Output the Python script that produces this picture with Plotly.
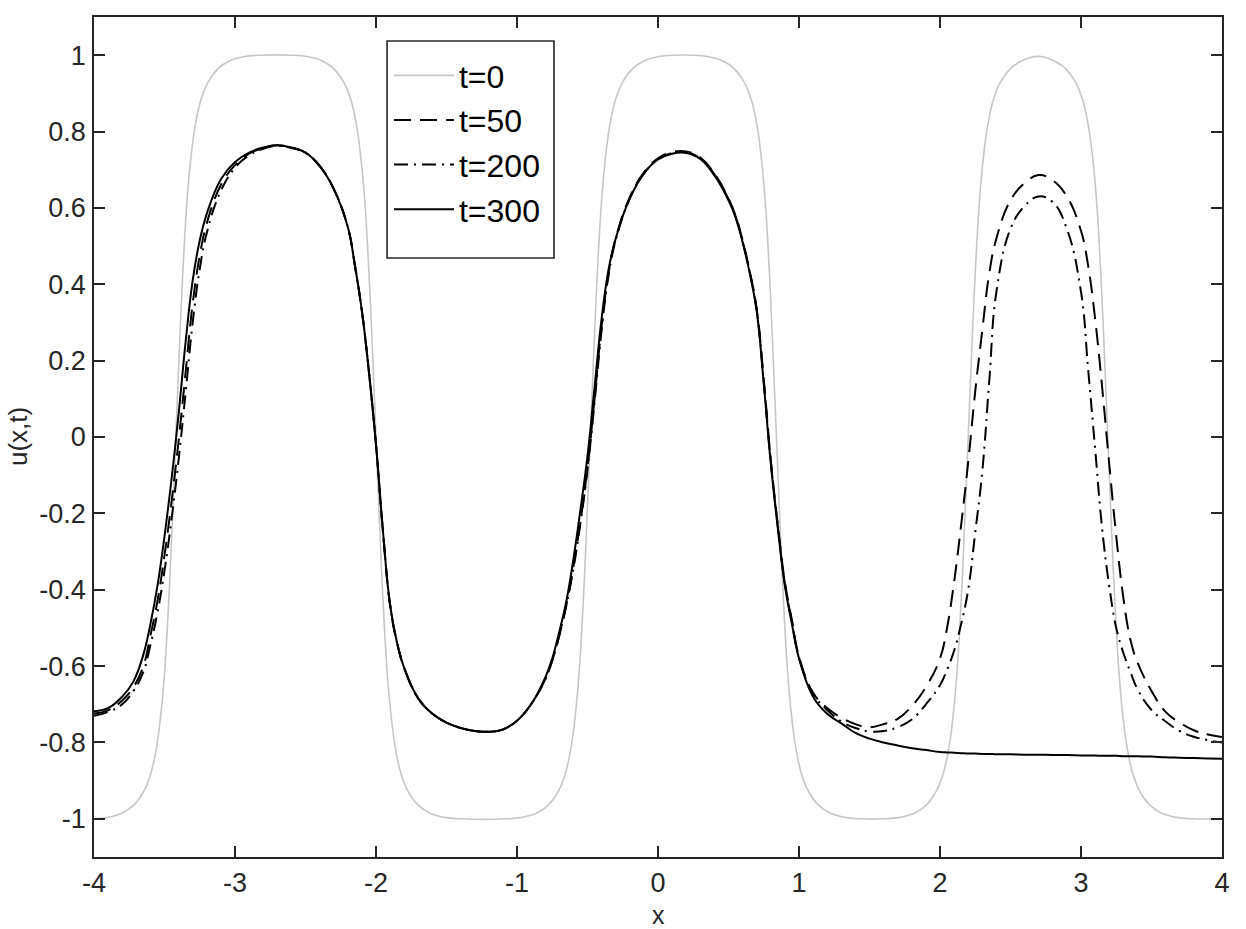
import plotly.graph_objects as go

# ---------------- data ----------------
# initial condition t=0 (grey)
X_T0 = [-4.0, -3.9, -3.8, -3.72, -3.65, -3.6, -3.56, -3.53, -3.5, -3.47, -3.45, -3.42,
        -3.39, -3.37, -3.34, -3.31, -3.28, -3.24, -3.19, -3.12, -3.04, -2.94, -2.82,
        -2.6, -2.48, -2.38, -2.3, -2.23, -2.18, -2.14, -2.11, -2.08, -2.05, -2.03, -2.0,
        -1.97, -1.95, -1.92, -1.89, -1.86, -1.82, -1.77, -1.7, -1.62, -1.52, -1.4,
        -1.08, -0.96, -0.86, -0.78, -0.71, -0.66, -0.62, -0.59, -0.56, -0.53, -0.51, -0.48,
        -0.45, -0.43, -0.4, -0.37, -0.34, -0.3, -0.25, -0.18, -0.1, 0.0, 0.12,
        0.24, 0.36, 0.46, 0.54, 0.61, 0.66, 0.7, 0.73, 0.76, 0.79, 0.81, 0.84,
        0.87, 0.89, 0.92, 0.95, 0.98, 1.02, 1.07, 1.14, 1.22, 1.32, 1.44,
        1.6, 1.72, 1.82, 1.9, 1.97, 2.02, 2.06, 2.09, 2.12, 2.15, 2.17, 2.2,
        2.23, 2.25, 2.28, 2.31, 2.34, 2.38, 2.43, 2.5, 2.58, 2.64, 2.695, 2.75,
        2.81, 2.89, 2.96, 3.01, 3.05, 3.08, 3.11, 3.14, 3.16, 3.19,
        3.22, 3.24, 3.27, 3.3, 3.33, 3.37, 3.42, 3.49, 3.57, 3.67, 3.79, 4.0]
U_T0 = [-1.0, -0.996, -0.985, -0.965, -0.93, -0.885, -0.82, -0.74, -0.62, -0.43, -0.27, 0.0,
        0.27, 0.43, 0.62, 0.74, 0.82, 0.885, 0.93, 0.965, 0.985, 0.996, 1.0,
        1.0, 0.996, 0.985, 0.965, 0.93, 0.885, 0.82, 0.74, 0.62, 0.43, 0.27, 0.0,
        -0.27, -0.43, -0.62, -0.74, -0.82, -0.885, -0.93, -0.965, -0.985, -0.996, -1.0,
        -1.0, -0.996, -0.985, -0.965, -0.93, -0.885, -0.82, -0.74, -0.62, -0.43, -0.27, 0.0,
        0.27, 0.43, 0.62, 0.74, 0.82, 0.885, 0.93, 0.965, 0.985, 0.996, 1.0,
        1.0, 0.996, 0.985, 0.965, 0.93, 0.885, 0.82, 0.74, 0.62, 0.43, 0.27, 0.0,
        -0.27, -0.43, -0.62, -0.74, -0.82, -0.885, -0.93, -0.965, -0.985, -0.996, -1.0,
        -1.0, -0.996, -0.985, -0.965, -0.93, -0.885, -0.82, -0.74, -0.62, -0.43, -0.27, 0.0,
        0.27, 0.43, 0.62, 0.74, 0.82, 0.885, 0.93, 0.965, 0.985, 0.994, 0.997, 0.994,
        0.985, 0.965, 0.93, 0.885, 0.82, 0.74, 0.62, 0.43, 0.27, 0.0,
        -0.27, -0.43, -0.62, -0.74, -0.82, -0.885, -0.93, -0.965, -0.985, -0.996, -1.0, -1.0]

# sample positions for the evolved solutions
X_EVOL = [-4.0, -3.9, -3.8, -3.72, -3.65, -3.6, -3.55, -3.5, -3.45, -3.4, -3.35, -3.3, -3.25, -3.2,
          -3.1, -3.0, -2.9, -2.8, -2.7, -2.6, -2.5, -2.4, -2.3, -2.2, -2.15, -2.1, -2.05,
          -2.0, -1.95, -1.9, -1.85, -1.8, -1.7, -1.6, -1.5, -1.4, -1.3, -1.2, -1.1,
          -1.0, -0.9, -0.8, -0.75, -0.7, -0.65, -0.6, -0.55, -0.5, -0.45, -0.4, -0.35, -0.3,
          -0.2, -0.1, 0.0, 0.1, 0.2, 0.3, 0.4, 0.5, 0.55, 0.6, 0.65, 0.7, 0.75, 0.8, 0.85, 0.9, 0.95,
          1.0, 1.1, 1.2, 1.3, 1.4, 1.5, 1.6, 1.7, 1.8, 1.9, 2.0, 2.05, 2.1, 2.15, 2.2, 2.25, 2.3, 2.35, 2.4,
          2.5, 2.6, 2.7, 2.8, 2.9, 3.0, 3.05, 3.1, 3.15, 3.2, 3.25, 3.3, 3.35, 3.4, 3.5, 3.6, 3.7, 3.8, 3.9, 4.0]

U_T50 = [-0.724, -0.716, -0.69, -0.655, -0.60, -0.52, -0.43, -0.31, -0.17, -0.01, 0.17, 0.35, 0.475, 0.56,
         0.66, 0.712, 0.742, 0.757, 0.764, 0.758, 0.745, 0.71, 0.65, 0.55, 0.45, 0.33, 0.17,
         -0.02, -0.25, -0.44, -0.54, -0.605, -0.685, -0.725, -0.748, -0.762, -0.77, -0.772, -0.766,
         -0.743, -0.70, -0.635, -0.585, -0.52, -0.44, -0.34, -0.22, -0.08, 0.10, 0.29, 0.43, 0.52,
         0.628, 0.693, 0.73, 0.746, 0.748, 0.732, 0.69, 0.625, 0.58, 0.515, 0.435, 0.335, 0.15, -0.06, -0.23, -0.38, -0.48,
         -0.575, -0.67, -0.71, -0.735, -0.752, -0.76, -0.752, -0.738, -0.705, -0.655, -0.58, -0.50, -0.38, -0.23, -0.066, 0.12, 0.28, 0.43, 0.52,
         0.62, 0.665, 0.686, 0.672, 0.63, 0.54, 0.45, 0.31, 0.13, -0.07, -0.26, -0.42, -0.53, -0.59, -0.665, -0.72, -0.748, -0.768, -0.779, -0.786]

U_T200 = [-0.73, -0.72, -0.70, -0.665, -0.615, -0.545, -0.46, -0.35, -0.215, -0.06, 0.117, 0.30, 0.44, 0.535,
          0.645, 0.705, 0.738, 0.755, 0.762, 0.757, 0.744, 0.71, 0.65, 0.55, 0.45, 0.33, 0.17,
          -0.02, -0.25, -0.44, -0.54, -0.605, -0.685, -0.725, -0.748, -0.762, -0.77, -0.772, -0.766,
          -0.743, -0.70, -0.635, -0.585, -0.52, -0.44, -0.345, -0.225, -0.085, 0.09, 0.28, 0.425, 0.515,
          0.625, 0.69, 0.728, 0.744, 0.746, 0.73, 0.688, 0.623, 0.578, 0.513, 0.433, 0.333, 0.145, -0.065, -0.235, -0.385, -0.485,
          -0.578, -0.672, -0.715, -0.745, -0.762, -0.771, -0.77, -0.76, -0.74, -0.70, -0.65, -0.61, -0.56, -0.49, -0.40, -0.25, -0.09, 0.15, 0.38,
          0.545, 0.605, 0.63, 0.615, 0.545, 0.38, 0.18, -0.03, -0.24, -0.39, -0.50, -0.565, -0.615, -0.66, -0.715, -0.745, -0.77, -0.785, -0.794, -0.80]

U_T300 = [-0.718, -0.71, -0.68, -0.64, -0.57, -0.49, -0.39, -0.26, -0.11, 0.06, 0.25, 0.41, 0.515, 0.585,
          0.675, 0.72, 0.745, 0.758, 0.764, 0.758, 0.745, 0.71, 0.65, 0.55, 0.45, 0.33, 0.17,
          -0.02, -0.25, -0.44, -0.54, -0.605, -0.685, -0.725, -0.748, -0.762, -0.77, -0.772, -0.766,
          -0.743, -0.70, -0.63, -0.58, -0.51, -0.43, -0.32, -0.19, -0.05, 0.13, 0.31, 0.44, 0.52,
          0.625, 0.69, 0.727, 0.742, 0.744, 0.728, 0.685, 0.62, 0.575, 0.51, 0.43, 0.33, 0.14, -0.07, -0.24, -0.39, -0.49,
          -0.58, -0.68, -0.725, -0.75, -0.775, -0.79, -0.80, -0.808, -0.815, -0.82, -0.825, -0.826, -0.827, -0.828, -0.829, -0.829, -0.83, -0.83, -0.831,
          -0.831, -0.832, -0.832, -0.833, -0.833, -0.834, -0.834, -0.834, -0.835, -0.835, -0.835, -0.836, -0.836, -0.836, -0.837, -0.839, -0.840, -0.841, -0.842, -0.843]

LABELS = ["t=0", "t=50", "t=200", "t=300"]
X_TICKS = [-4, -3, -2, -1, 0, 1, 2, 3, 4]
X_TICKTEXT = ["-4", "-3", "-2", "-1", "0", "1", "2", "3", "4"]
Y_TICKS = [-1, -0.8, -0.6, -0.4, -0.2, 0, 0.2, 0.4, 0.6, 0.8, 1]
Y_TICKTEXT = ["-1", "-0.8", "-0.6", "-0.4", "-0.2", "0", "0.2", "0.4", "0.6", "0.8", "1"]

assert len(X_T0) == len(U_T0), (len(X_T0), len(U_T0))
for arr in (U_T50, U_T200, U_T300):
    assert len(arr) == len(X_EVOL), len(arr)

# ---------------- figure ----------------
AX = "#262626"
FONT = "Liberation Sans, Arial, Helvetica, sans-serif"
SM = 1.2

fig = go.Figure()
fig.add_trace(go.Scatter(x=X_T0, y=U_T0, mode="lines", name=LABELS[0],
                         line=dict(color="#c6c6c6", width=1.6, shape="spline", smoothing=SM)))
fig.add_trace(go.Scatter(x=X_EVOL, y=U_T50, mode="lines", name=LABELS[1],
                         line=dict(color="black", width=2, dash="17px,9px", shape="spline", smoothing=SM)))
fig.add_trace(go.Scatter(x=X_EVOL, y=U_T200, mode="lines", name=LABELS[2],
                         line=dict(color="black", width=2, dash="14px,6px,2px,6px", shape="spline", smoothing=SM)))
fig.add_trace(go.Scatter(x=X_EVOL, y=U_T300, mode="lines", name=LABELS[3],
                         line=dict(color="black", width=2, shape="spline", smoothing=SM)))

axis_common = dict(showline=True, linecolor=AX, linewidth=1.8, mirror="ticks",
                   ticks="inside", ticklen=11, tickwidth=1.5, tickcolor=AX,
                   showgrid=False, zeroline=False,
                   tickfont=dict(family=FONT, size=27, color=AX))

# legend frame (paper coordinates of the plot area)
LEG_BOX = dict(x0=0.2598, x1=0.4078, y0=0.7131, y1=0.9714)

fig.update_layout(
    width=1246, height=929,
    margin=dict(l=94, r=24, t=17, b=72),
    paper_bgcolor="white", plot_bgcolor="white",
    font=dict(family=FONT, color=AX),
    showlegend=True,
    legend=dict(x=0.2615, y=0.963, xanchor="left", yanchor="top",
                bgcolor="rgba(0,0,0,0)", borderwidth=0,
                font=dict(family=FONT, size=32, color="black"),
                itemwidth=60, traceorder="normal"),
    xaxis=dict(range=[-4, 4], tickvals=X_TICKS, ticktext=X_TICKTEXT,
               ticklabelstandoff=1, **axis_common),
    yaxis=dict(range=[-1.1, 1.1], tickvals=Y_TICKS, ticktext=Y_TICKTEXT,
               ticklabelstandoff=1, **axis_common),
    shapes=[dict(type="rect", xref="paper", yref="paper", layer="above",
                 line=dict(color=AX, width=1.6), fillcolor="rgba(0,0,0,0)", **LEG_BOX)],
    annotations=[
        dict(text="x", xref="paper", yref="paper", x=0.5, y=-0.0685,
             xanchor="center", yanchor="middle", showarrow=False,
             font=dict(family=FONT, size=25, color=AX)),
        dict(text="u(x,t)", xref="paper", yref="paper", x=-0.0824, y=0.5,
             xanchor="left", yanchor="middle", showarrow=False, textangle=-90,
             font=dict(family=FONT, size=26, color=AX)),
    ],
)

fig.write_html("out.html")
